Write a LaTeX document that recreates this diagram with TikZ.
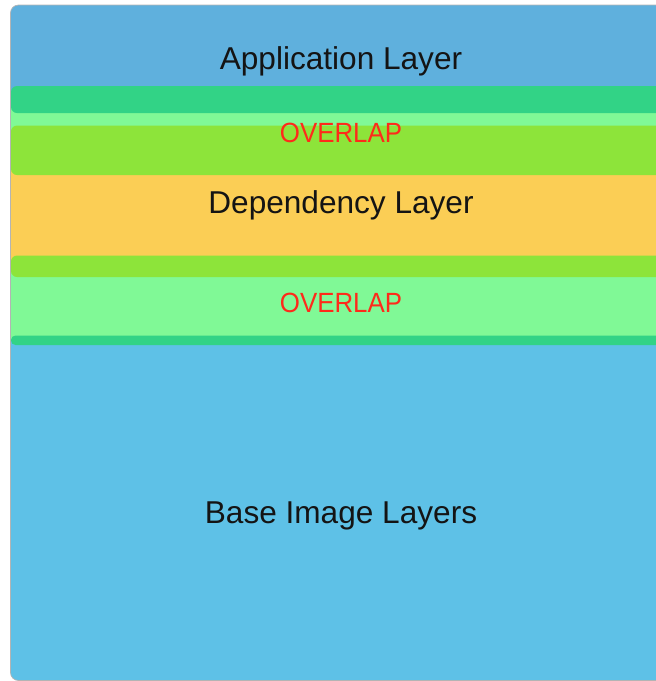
\documentclass[tikz,border=0pt]{standalone}
\usepackage{fontspec}
\setmainfont{Liberation Sans}
\definecolor{appblue}{HTML}{5FB0DD}
\definecolor{baseblue}{HTML}{5EC1E7}
\definecolor{darkgreen}{HTML}{32D386}
\definecolor{lightgreen}{HTML}{80F996}
\definecolor{ygreen}{HTML}{8DE43A}
\definecolor{depyellow}{HTML}{FBCE55}
\definecolor{overred}{HTML}{FF2A1A}
\definecolor{framegray}{HTML}{B4B4B4}
\tikzset{
  band/.style={rounded corners=6pt},
  label/.style={anchor=base, inner sep=0pt, text=black!92, font=\fontsize{31.6}{36}\selectfont},
  overlabel/.style={anchor=base, inner sep=0pt, text=overred, xscale=0.93, font=\fontsize{27.8}{30}\selectfont}
}
\begin{document}
\begin{tikzpicture}[x=1pt,y=-1pt]
\useasboundingbox (0,0) rectangle (656,681);
\begin{scope}
  \clip[rounded corners=8pt] (10.5,5) rectangle (760,680.5);
  % plain bands
  \fill[appblue] (0,0) rectangle (760,100);
  \fill[lightgreen] (0,100) rectangle (760,150);
  \fill[depyellow] (0,150) rectangle (760,266);
  \fill[lightgreen] (0,266) rectangle (760,340);
  \fill[baseblue] (0,340) rectangle (760,690);
  % overlap bands with rounded left ends
  \fill[darkgreen, band] (11,86) rectangle (800,113);
  \fill[ygreen, band] (11,125.5) rectangle (800,175);
  \fill[ygreen, band] (11,255.5) rectangle (800,277);
  \fill[darkgreen, rounded corners=4.5pt] (11,335.5) rectangle (800,345);
\end{scope}
\draw[framegray, line width=0.7pt, rounded corners=8pt] (760,5) -- (10.5,5) -- (10.5,680.5) -- (760,680.5);
% texts
\node[label] (app) at (341,69) {Application Layer};
\node[overlabel] (ov1) at (341,142) {OVERLAP};
\node[label] (dep) at (341,213) {Dependency Layer};
\node[overlabel] (ov2) at (341,312) {OVERLAP};
\node[label] (base) at (341,523) {Base Image Layers};
\end{tikzpicture}
\end{document}
